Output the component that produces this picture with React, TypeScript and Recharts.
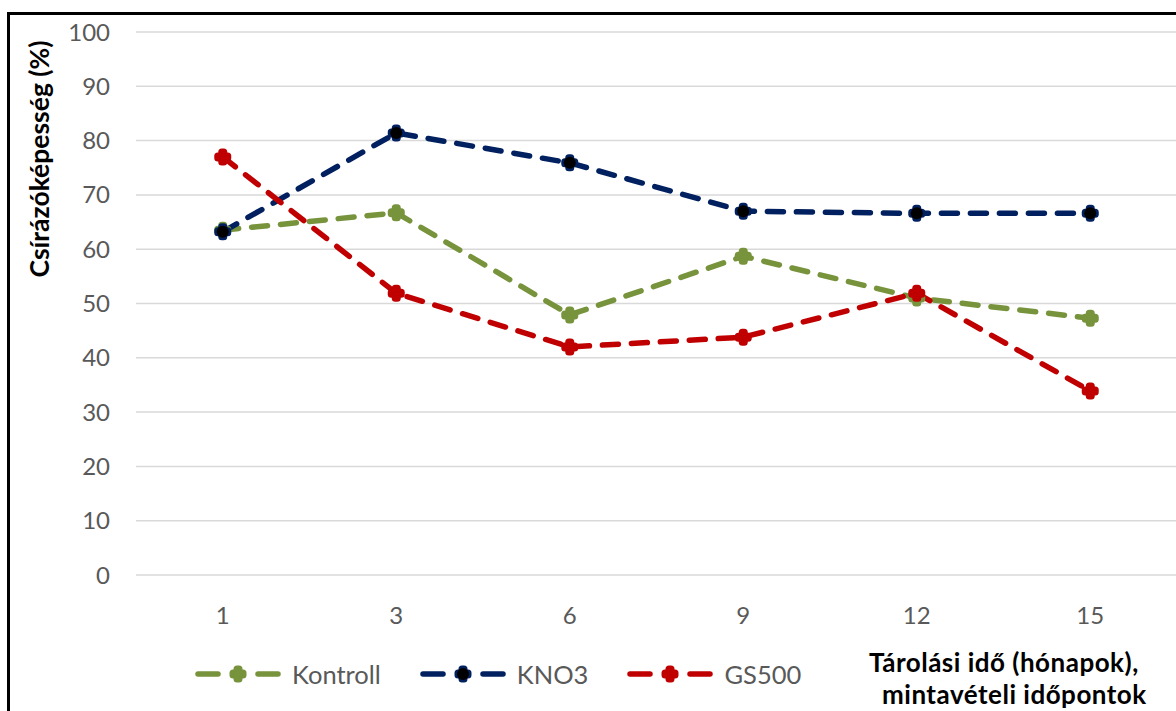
import { LineChart, Line, CartesianGrid, XAxis, YAxis } from 'recharts';

// storage time (months) at sampling points
const months = ['1', '3', '6', '9', '12', '15'];
const kontroll = [63.5, 66.7, 47.9, 58.7, 51.0, 47.3];
const kno3 = [63.2, 81.4, 75.9, 67.0, 66.6, 66.6];
const gs500 = [77.0, 51.9, 42.0, 43.8, 51.9, 33.9];
const yTicks = [0, 10, 20, 30, 40, 50, 60, 70, 80, 90, 100];

const series = [
	{ key: 'kontroll', name: 'Kontroll', color: '#77933C', values: kontroll, core: false },
	{ key: 'kno3', name: 'KNO3', color: '#002060', values: kno3, core: true },
	{ key: 'gs500', name: 'GS500', color: '#C00000', values: gs500, core: false },
];

const data = months.map((m, i) => {
	const row: Record<string, string | number> = { month: m };
	series.forEach((s) => {
		row[s.key] = s.values[i];
	});
	return row;
});

const FONT = 'Lato, "Open Sans", sans-serif';
const TICK_STYLE = { fill: '#595959', fontSize: 24, fontFamily: FONT };
const DASH = '16 13';

const Marker = ({ cx, cy, color, core }: { cx: number; cy: number; color: string; core: boolean }) => (
	<g>
		<rect x={cx - 8.5} y={cy - 4.5} width={17} height={9} rx={3.5} fill={color} />
		<rect x={cx - 4.5} y={cy - 8.5} width={9} height={17} rx={3.5} fill={color} />
		{core && <circle cx={cx} cy={cy} r={6} fill="#000" />}
	</g>
);

const makeDot = (color: string, core: boolean) => (props: any) => {
	const { cx, cy, index } = props;
	if (cx == null || cy == null) return <g key={index} />;
	return <Marker key={index} cx={cx} cy={cy} color={color} core={core} />;
};

const LegendItem = ({ name, color, core }: { name: string; color: string; core: boolean }) => (
	<div style={{ display: 'flex', alignItems: 'center', marginRight: 39 }}>
		<svg width={86} height={24}>
			<line x1={3} y1={12} x2={23} y2={12} stroke={color} strokeWidth={5.5} strokeLinecap="round" />
			<line x1={63} y1={12} x2={83} y2={12} stroke={color} strokeWidth={5.5} strokeLinecap="round" />
			<Marker cx={43} cy={12} color={color} core={core} />
		</svg>
		<span style={{ marginLeft: 11, fontSize: 25.5, color: '#595959' }}>{name}</span>
	</div>
);

const titleLine = {
	position: 'absolute' as const,
	whiteSpace: 'nowrap' as const,
	fontSize: 26,
	letterSpacing: 0.5,
	fontWeight: 700,
	color: '#000',
};

const App = () => {
	return (
		<div
			style={{
				position: 'fixed',
				left: 0,
				top: 0,
				width: 1176,
				height: 711,
				overflow: 'hidden',
				background: '#fff',
				fontFamily: FONT,
			}}
		>
			<div
				style={{
					position: 'absolute',
					left: 7,
					top: 12,
					width: 1300,
					height: 800,
					border: '3px solid #000',
				}}
			/>
			<div style={{ position: 'absolute', left: 0, top: 0 }}>
				<LineChart width={1190} height={711} data={data} margin={{ top: 32, right: 13, left: 0, bottom: 0 }}>
					<CartesianGrid vertical={false} stroke="#d9d9d9" strokeWidth={1.5} />
					<XAxis
						dataKey="month"
						height={136}
						interval={0}
						tickLine={false}
						axisLine={false}
						tickMargin={26}
						padding={{ left: 86.75, right: 86.75 }}
						tick={TICK_STYLE}
					/>
					<YAxis
						domain={[0, 100]}
						ticks={yTicks}
						width={136}
						tickLine={false}
						axisLine={false}
						tickMargin={20}
						tick={TICK_STYLE}
					/>
					{series.map((s) => (
						<Line
							key={s.key}
							type="linear"
							dataKey={s.key}
							name={s.name}
							stroke={s.color}
							strokeWidth={5.5}
							strokeDasharray={DASH}
							strokeLinecap="round"
							dot={makeDot(s.color, s.core)}
							activeDot={false}
							isAnimationActive={false}
						/>
					))}
				</LineChart>
			</div>
			<div
				style={{
					position: 'absolute',
					left: 39,
					top: 159,
					transform: 'translate(-50%, -50%) rotate(-90deg)',
					whiteSpace: 'nowrap',
					fontSize: 26.5,
					fontWeight: 700,
					color: '#000',
				}}
			>
				Csírázóképesség (%)
			</div>
			<div style={{ position: 'absolute', left: 195, top: 659, display: 'flex', alignItems: 'center' }}>
				{series.map((s) => (
					<LegendItem key={s.key} name={s.name} color={s.color} core={s.core} />
				))}
			</div>
			<div style={{ ...titleLine, left: 869, top: 646 }}>Tárolási idő (hónapok),</div>
			<div style={{ ...titleLine, left: 882, top: 678 }}>mintavételi időpontok</div>
		</div>
	);
};

export default App;
